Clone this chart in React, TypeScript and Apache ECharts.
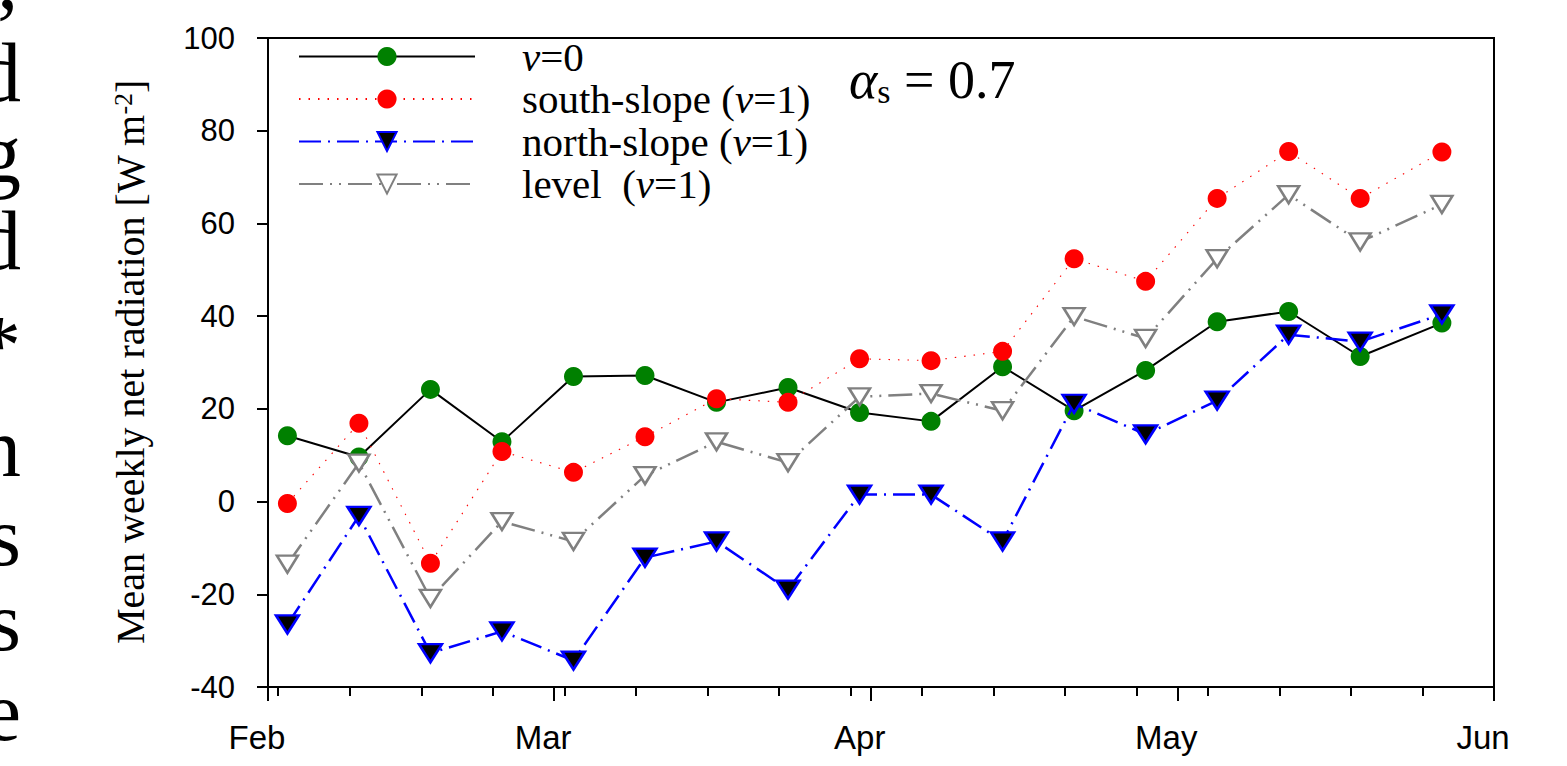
import React, { useEffect, useRef } from "react";
import * as echarts from "echarts";

// Days since Feb 1 for each weekly mean
const days = [1.9, 8.9, 15.9, 22.9, 29.9, 36.9, 43.9, 50.9, 57.9, 64.9, 71.9, 78.9, 85.9, 92.9, 99.9, 106.9, 114.9];
const v0Values = [14.2, 9.6, 24.2, 12.9, 27.0, 27.2, 21.4, 24.6, 19.2, 17.3, 29.1, 19.6, 28.3, 38.8, 41.0, 31.3, 38.5];
const southValues = [-0.4, 16.9, -13.3, 10.8, 6.3, 14.0, 22.2, 21.4, 30.8, 30.4, 32.4, 52.4, 47.5, 65.4, 75.5, 65.4, 75.4];
const northValues = [-26.5, -3.1, -32.7, -28.0, -34.3, -12.1, -8.6, -19.0, 1.5, 1.5, -8.6, 21.1, 14.5, 21.8, 36.0, 34.5, 40.4];
const levelValues = [-13.5, 8.3, -20.9, -4.3, -8.6, 5.6, 12.9, 8.4, 22.6, 23.3, 19.6, 39.9, 35.2, 52.4, 66.2, 56.0, 64.1];

const seriesNames = ["v=0", "south-slope (v=1)", "north-slope (v=1)", "level  (v=1)"];

const monthTicks = [0, 28, 59, 89, 120];
const monthLabels = ["Feb", "Mar", "Apr", "May", "Jun"];
const weekTicks = [1, 8, 15, 22, 29, 36, 43, 50, 57, 64, 71, 78, 85, 92, 99, 106, 113, 120];

const yMin = -40;
const yMax = 100;
const yStep = 20;

// Cropped ends of lines from the neighbouring page text
const sideLetters = ["\u2019", "d", "g", "d", "*", "n", "s", "s", "e"];
const sideLetterY = [27, 72, 153, 240, 345, 447, 536, 621, 711];

const SERIF = "'Liberation Serif', 'Times New Roman', serif";
const SANS = "'Liberation Sans', Arial, sans-serif";

function pairs(vals: number[]) {
  return vals.map((v, i) => [days[i], v]);
}

export default function App() {
  const ref = useRef<HTMLDivElement>(null);
  useEffect(() => {
    if (!ref.current) return;
    const chart = echarts.init(ref.current, null, { renderer: "svg" });
    const option: any = {
      animation: false,
      backgroundColor: "#fff",
      grid: {
        left: 268,
        right: 73,
        top: 38,
        bottom: 79,
        show: true,
        borderColor: "#000",
        borderWidth: 2,
        backgroundColor: "transparent",
        outerBoundsMode: "none",
      },
      legend: {
        orient: "vertical",
        left: 298,
        top: 36,
        padding: 0,
        itemWidth: 176,
        itemHeight: 24,
        itemGap: 1.5,
        data: seriesNames,
        formatter: (name: string) => name.replace("v=", "{i|v}="),
        textStyle: {
          fontFamily: SERIF,
          fontSize: 41,
          color: "#000",
          lineHeight: 41,
          padding: [0, 0, 0, 42],
          rich: {
            i: { fontFamily: SERIF, fontSize: 41, fontStyle: "italic", color: "#000", lineHeight: 41 },
          },
        },
      },
      xAxis: [
        {
          type: "value",
          min: 0,
          max: 120,
          position: "bottom",
          axisLine: { show: true, onZero: false, lineStyle: { color: "#000", width: 2 } },
          axisTick: { show: true, customValues: monthTicks, length: 14, lineStyle: { color: "#000", width: 2 } },
          axisLabel: {
            customValues: monthTicks,
            formatter: (v: number) => monthLabels[monthTicks.indexOf(Math.round(v))] || "",
            fontFamily: SANS,
            fontSize: 33,
            color: "#000",
            margin: 34,
            padding: [0, 22, 0, 0],
          },
          splitLine: { show: false },
        },
        {
          type: "value",
          min: 0,
          max: 120,
          position: "bottom",
          axisLine: { show: false, onZero: false },
          axisTick: { show: true, customValues: weekTicks, length: 9, lineStyle: { color: "#000", width: 2 } },
          axisLabel: { show: false },
          splitLine: { show: false },
        },
      ],
      yAxis: {
        type: "value",
        min: yMin,
        max: yMax,
        interval: yStep,
        axisLine: { show: true, onZero: false, lineStyle: { color: "#000", width: 2 } },
        axisTick: { show: true, length: 11, lineStyle: { color: "#000", width: 2 } },
        axisLabel: { fontFamily: SANS, fontSize: 31, color: "#000", margin: 33 },
        splitLine: { show: false },
      },
      series: [
        {
          name: seriesNames[0],
          type: "line",
          data: pairs(v0Values),
          symbol: "circle",
          symbolSize: 19,
          lineStyle: { color: "#000", width: 2, type: "solid" },
          itemStyle: { color: "#008000", borderWidth: 0 },
          z: 2,
        },
        {
          name: seriesNames[1],
          type: "line",
          data: pairs(southValues),
          symbol: "circle",
          symbolSize: 19,
          lineStyle: { color: "#ff0000", width: 1.1, type: [1.5, 8] },
          itemStyle: { color: "#ff0000", borderWidth: 0 },
          z: 3,
        },
        {
          name: seriesNames[2],
          type: "line",
          data: pairs(northValues),
          symbol: "triangle",
          symbolRotate: 180,
          symbolSize: [23, 18],
          lineStyle: { color: "#0000ff", width: 2.5, type: [22, 7, 2, 7] },
          itemStyle: { color: "#000", borderColor: "#0000ff", borderWidth: 2.5 },
          z: 4,
        },
        {
          name: seriesNames[3],
          type: "line",
          data: pairs(levelValues),
          symbol: "triangle",
          symbolRotate: 180,
          symbolSize: [21, 17],
          lineStyle: { color: "#808080", width: 2.5, type: [24, 7, 2, 7, 2, 7] },
          itemStyle: { color: "#fff", borderColor: "#808080", borderWidth: 2.5 },
          z: 5,
        },
      ],
      graphic: [
        {
          type: "text",
          x: 130,
          y: 362,
          rotation: Math.PI / 2,
          style: {
            text: "Mean weekly net radiation [W m{sup|-2}]",
            font: `40px ${SERIF}`,
            fill: "#000",
            align: "center",
            verticalAlign: "middle",
            rich: {
              sup: { fontFamily: SERIF, fontSize: 26, verticalAlign: "top", fill: "#000", padding: [0, 0, 14, 0] },
            },
          },
        },
        {
          type: "text",
          x: 849,
          y: 80,
          style: {
            text: "{a|\u03B1}{s|s}{n| = 0.7}",
            fill: "#000",
            align: "left",
            verticalAlign: "middle",
            rich: {
              a: { fontFamily: SERIF, fontSize: 54, fontStyle: "italic", fill: "#000" },
              s: { fontFamily: SERIF, fontSize: 34, fill: "#000", verticalAlign: "bottom", padding: [22, 0, 0, 0] },
              n: { fontFamily: SERIF, fontSize: 54, fill: "#000" },
            },
          },
        },
        ...sideLetters.map((ch, i) => ({
          type: "text",
          x: 21,
          y: sideLetterY[i],
          style: {
            text: ch,
            font: `84px ${SERIF}`,
            fill: "#000",
            align: "right",
            verticalAlign: "middle",
          },
        })),
      ],
    };
    chart.setOption(option);
    return () => chart.dispose();
  }, []);
  return (
    <div
      ref={ref}
      style={{ position: "absolute", left: 0, top: 0, width: 1567, height: 766 }}
    />
  );
}
